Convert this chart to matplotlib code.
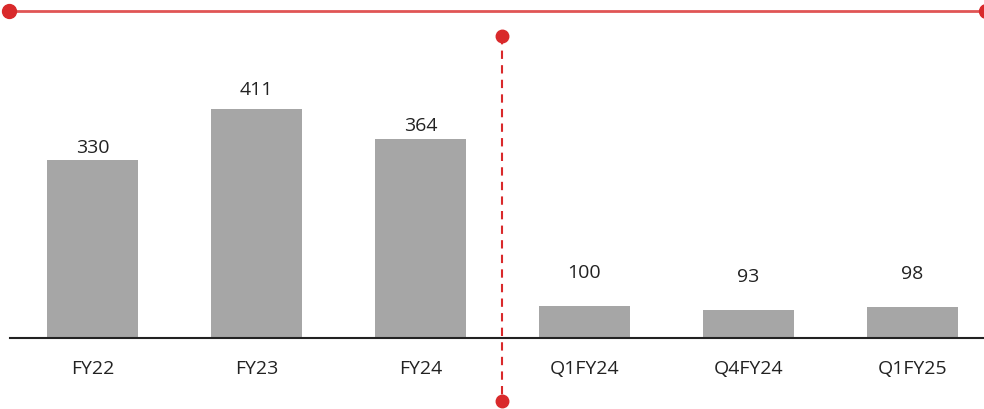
import matplotlib.pyplot as plt
from matplotlib.lines import Line2D

# data
labels = ["FY22", "FY23", "FY24", "Q1FY24", "Q4FY24", "Q1FY25"]
values = [330, 411, 364, 100, 93, 98]
# label gap above each bar (points), as in the original slide
label_gap = [9.4, 14.4, 10.1, 24.5, 24.5, 24.5]

bar_color = "#a6a6a6"
red = "#d9292b"
plt.rcParams['font.family'] = ['Open Sans', 'DejaVu Sans']

fig = plt.figure(figsize=(9.84, 4.10), dpi=100)
ax = fig.add_axes([10 / 984, 71 / 410, 974 / 984, 339 / 410])

x = list(range(len(values)))
ax.bar(x, values, width=0.555, color=bar_color, zorder=2)

ax.set_ylim(49, 585)
ax.set_xlim(-0.503, 5.436)

for i, v in zip(x, values):
    ax.annotate(str(v), (i, v), xytext=(0, label_gap[i]), textcoords="offset points",
                ha="center", va="center", fontsize=14, color="#222222")

ax.set_xticks(x)
ax.set_xticklabels(labels, fontsize=14, color="#222222")
ax.tick_params(axis="x", length=0, pad=15)
ax.set_yticks([])
for s in ["top", "left", "right"]:
    ax.spines[s].set_visible(False)
ax.spines["bottom"].set_color("#222222")
ax.spines["bottom"].set_linewidth(1.5)

# decorative red line at top
fig.add_artist(Line2D([9 / 984, 986 / 984], [398 / 410, 398 / 410],
                      transform=fig.transFigure, color="#e05555", lw=2))
fig.add_artist(Line2D([9 / 984, 986 / 984], [398 / 410, 398 / 410],
                      transform=fig.transFigure, color=red, lw=0,
                      marker="o", markersize=10))

# dashed divider between annual and quarterly
fig.add_artist(Line2D([502 / 984, 502 / 984], [373 / 410, 8 / 410],
                      transform=fig.transFigure, color=red, lw=1.5,
                      linestyle=(0, (4, 3))))
fig.add_artist(Line2D([502 / 984, 502 / 984], [373 / 410, 8 / 410],
                      transform=fig.transFigure, color=red, lw=0,
                      marker="o", markersize=9))

fig.savefig("out.png", dpi=100)
